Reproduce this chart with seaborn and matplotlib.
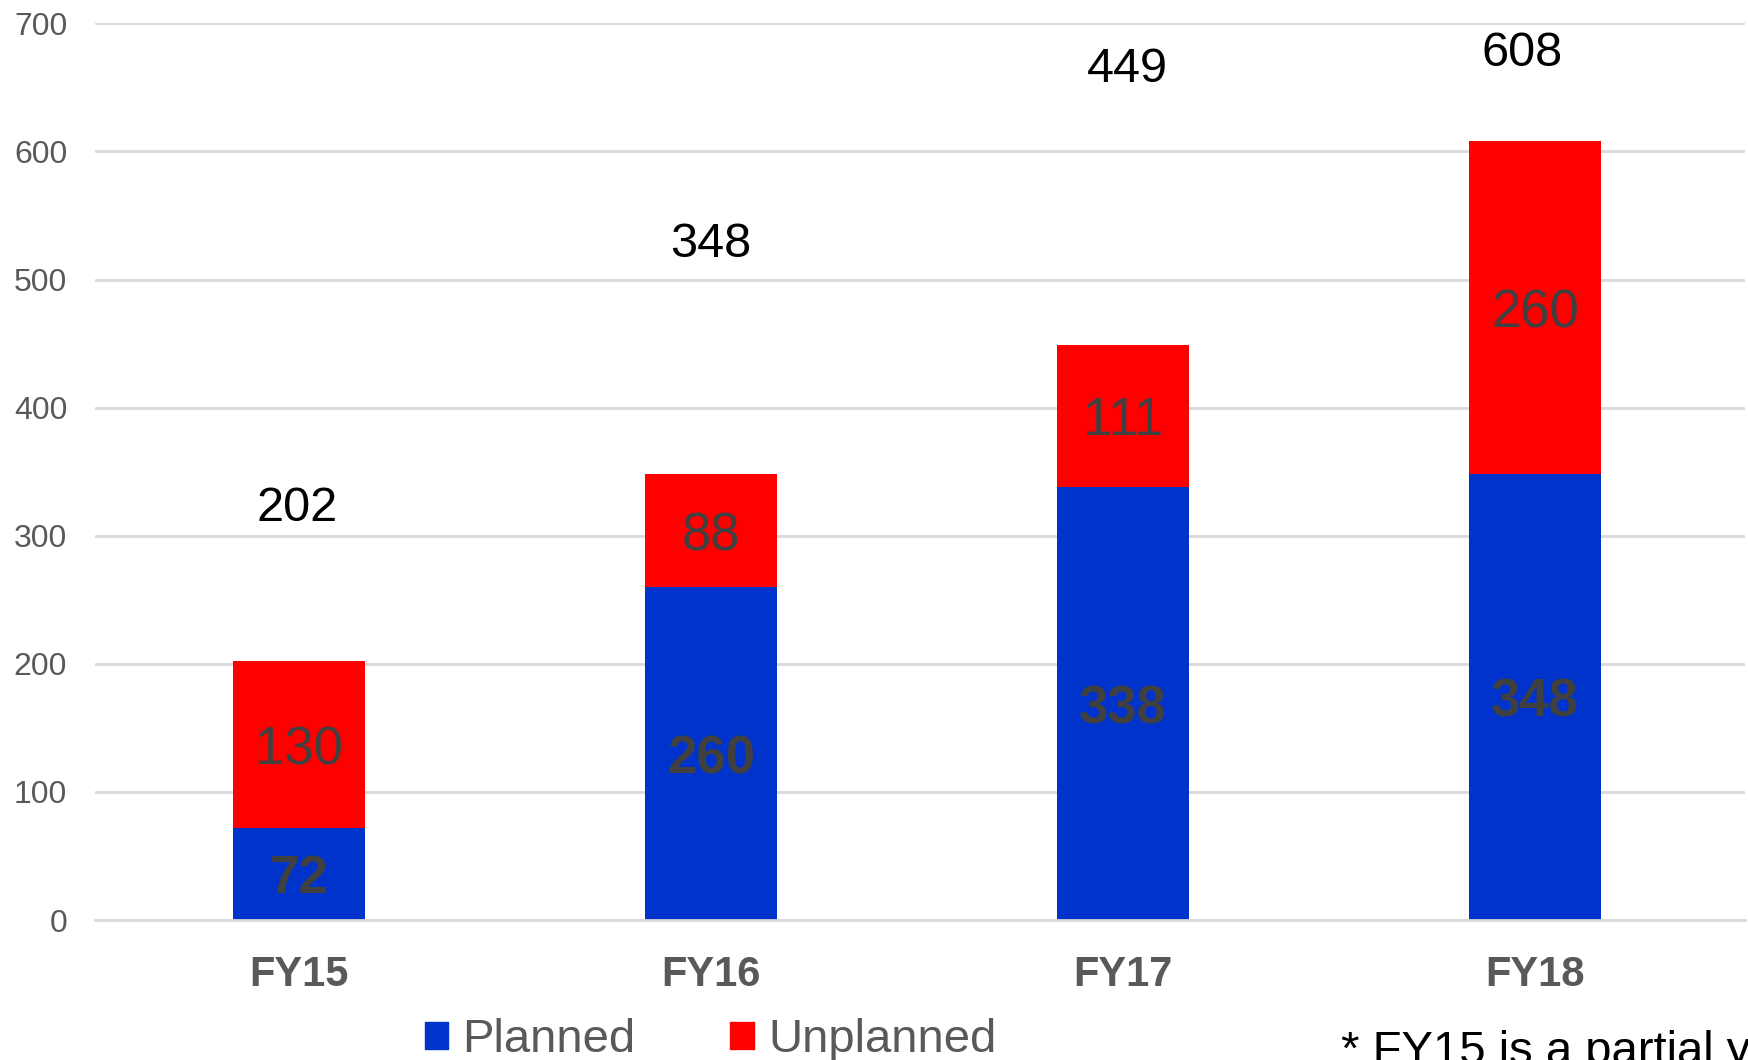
import pandas as pd
import seaborn as sns
import matplotlib.pyplot as plt
from matplotlib.patches import Patch

# data
years = ['FY15', 'FY16', 'FY17', 'FY18']
planned = [72, 260, 338, 348]
unplanned = [130, 88, 111, 260]
totals = [202, 348, 449, 608]
# where Excel put the total labels (y in data units, x nudge in category units)
total_label_y = [325, 531, 668, 680]
total_label_dx = [-0.005, 0.0, 0.01, -0.03]

blue = '#0033CC'
red = '#FF0000'
fontsz = 23

sns.set_theme(style="white")
plt.rcParams['font.family'] = ['Liberation Sans', 'DejaVu Sans']

df = pd.DataFrame({'year': years, 'planned': planned, 'unplanned': unplanned,
                   'total': [p + u for p, u in zip(planned, unplanned)]})

fig = plt.figure(figsize=(17.48, 10.6), dpi=100)
ax = fig.add_axes([0.0543, 0.132, 0.944, 0.846])

# red full-height bar, blue planned drawn on top of it
sns.barplot(data=df, x='year', y='total', color=red, width=0.32,
            saturation=1, ax=ax, linewidth=0)
sns.barplot(data=df, x='year', y='planned', color=blue, width=0.32,
            saturation=1, ax=ax, linewidth=0)

red_bars = ax.containers[0]
blue_bars = ax.containers[1]
txts = ax.bar_label(blue_bars, labels=[str(v) for v in planned], label_type='center',
                    fontsize=38, fontweight='bold', color='#404040')
for t in txts:
    t.set_va('center_baseline')
# red segment label must sit in the middle of the red part only
for bar, p, u in zip(red_bars, planned, unplanned):
    x = bar.get_x() + bar.get_width() / 2
    ax.text(x, p + u / 2, str(u), ha='center', va='center_baseline',
            fontsize=38, color='#404040')

for i, (t, ly, dx) in enumerate(zip(totals, total_label_y, total_label_dx)):
    ax.text(i + dx, ly, str(t), ha='center', va='center_baseline',
            fontsize=35, color='black')

ax.set_ylim(0, 700)
ax.set_xlim(-0.495, 3.51)
ax.set_yticks(range(0, 701, 100))
ax.yaxis.grid(True, color='#D9D9D9', linewidth=2)
ax.set_axisbelow(True)
for s in ['top', 'right', 'left']:
    ax.spines[s].set_visible(False)
ax.spines['bottom'].set_color('#D9D9D9')
ax.spines['bottom'].set_linewidth(2)
ax.tick_params(axis='y', length=0, pad=20, labelsize=fontsz, labelcolor='#595959')
ax.tick_params(axis='x', length=0, pad=25, labelsize=30, labelcolor='#595959')
for lab in ax.get_xticklabels():
    lab.set_fontweight('bold')
ax.set_xlabel('')
ax.set_ylabel('')

handles = [Patch(color=blue, label='Planned'), Patch(color=red, label='Unplanned')]
fig.legend(handles=handles, loc='center left', bbox_to_anchor=(0.243, 0.019),
           ncol=2, frameon=False, fontsize=34, handlelength=0.5, handleheight=0.5,
           handletextpad=0.3, columnspacing=2.0, borderpad=0, borderaxespad=0,
           labelcolor='#595959')

fig.text(0.767, 0.028, '* FY15 is a partial year', fontsize=34, color='black',
         ha='left', va='top')

fig.savefig('out.png', dpi=100)
